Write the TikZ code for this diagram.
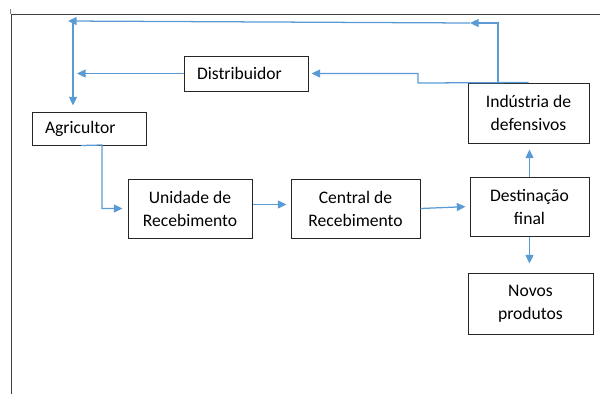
\documentclass[tikz,border=0pt]{standalone}
\usepackage{fontspec}
\setmainfont{Carlito}
\usetikzlibrary{arrows.meta}
\definecolor{azul}{RGB}{91,155,213}

\tikzset{
    caixa/.style={draw=black!85, line width=0.75pt, inner sep=0pt, align=center,
        font=\fontsize{13.2}{17.25}\selectfont},
    seta/.style={draw=azul, line width=0.95pt, -{Triangle[length=6.5pt,width=6pt]}},
}

\begin{document}
\begin{tikzpicture}[x=0.75pt,y=-0.75pt]
        %座標はピクセル単位（y は下向き）
        \useasboundingbox (0,0) rectangle (600,394);
        \draw[line width=0.75pt, black!75] (11,394)--(11,14)--(600,14);
        \draw[line width=0.4pt, black!50] (10,9)--(10,14);

        \node[caixa, align=left, text width=73.5pt, minimum width=93pt, minimum height=26.25pt] (dist) at (246,73.5) {Distribuidor};
        \node[caixa, align=left, text width=66pt, minimum width=85.5pt, minimum height=24.75pt] (agr) at (89,128.5) {Agricultor};
        \node[caixa, minimum width=93pt, minimum height=44.25pt] (unid) at (190,208.5) {Unidade de\\Recebimento};
        \node[caixa, minimum width=96.75pt, minimum height=44.25pt] (cent) at (355.5,208.5) {Central de\\Recebimento};
        \node[caixa, minimum width=89.25pt, minimum height=44.25pt] (dest) at (529.5,206.5) {Destinação\\final};
        \node[caixa, minimum width=90.75pt, minimum height=45pt] (ind) at (528.5,113) {Indústria de\\defensivos};
        \node[caixa, minimum width=93.75pt, minimum height=45.75pt] (novos) at (530.5,303.5) {Novos\\produtos};

        \coordinate (topoDir) at (470,23);
        \coordinate (topoEsq) at (68,21);
        \coordinate (esq) at (73,21);
        \coordinate (dobra) at (418,83);
        \coordinate (desce) at (102,145);

        \draw[seta] ([xshift=-22.9pt]ind.north) |- (topoDir);
        \draw[seta] (topoDir)--(topoEsq);
        \draw[seta, shorten >=4.5pt] (esq)--(esq |- agr.north);
        \draw[seta, shorten >=3pt] (dist.west)--(dist.west -| esq);
        \draw[seta, shorten >=2.25pt] (ind.north)--(dobra) |- (dist.east);
        \draw[seta, shorten >=3.75pt] ([xshift=-6pt]agr.south)--(desce) |- (unid.west);
        \draw[seta, shorten >=3pt] ([yshift=3pt]unid.east)--([yshift=3pt]cent.west);
        \draw[seta, shorten >=3pt] (cent.east)--(dest.west);
        \draw[seta, shorten >=4.5pt] (dest.north)--(dest.north |- ind.south);
        \draw[seta, shorten >=6.75pt] (dest.south)--(dest.south |- novos.north);
    \end{tikzpicture}
\end{document}
